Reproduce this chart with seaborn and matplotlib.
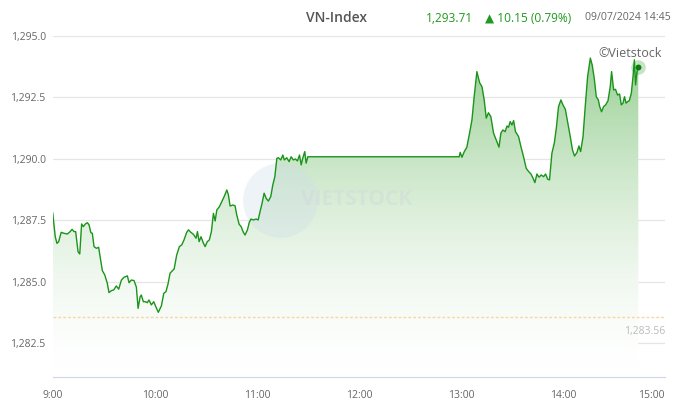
import numpy as np
import pandas as pd
import matplotlib
matplotlib.use("Agg")
import matplotlib.pyplot as plt
import seaborn as sns
from matplotlib.colors import LinearSegmentedColormap

# (minutes after 9:00, index level)
morning = [
    (0, 1287.81), (1.5, 1286.83), (2.5, 1286.56), (3.5, 1286.63), (5, 1287.01),
    (6.6, 1286.97), (8.6, 1286.94), (10, 1287.02), (11.4, 1287.13), (12.5, 1287.04),
    (13.5, 1287.04), (14.9, 1286.22), (15.9, 1286.13), (17, 1287.35), (18, 1287.24),
    (19.2, 1287.35), (20.4, 1287.40), (21.4, 1287.31), (22.4, 1287.00), (23.3, 1286.97),
    (24.3, 1286.43), (25.7, 1286.36), (27, 1286.40), (28.2, 1285.89), (29.2, 1285.45),
    (30.6, 1285.28), (32.1, 1284.94), (33.1, 1284.56), (34.5, 1284.64), (35.9, 1284.67),
    (37.4, 1284.83), (38.8, 1284.70), (40.4, 1285.07), (41.9, 1285.18), (43.9, 1285.24),
    (44.9, 1284.96), (46.2, 1285.07), (47.8, 1285.05), (49.2, 1284.78), (50.2, 1283.92),
    (51.4, 1284.39), (52.1, 1284.46), (53.3, 1284.19), (54.5, 1284.19), (55.6, 1284.15),
    (56.6, 1284.26), (58, 1284.06), (59.4, 1284.19), (60.6, 1283.99), (62.1, 1283.76),
    (63.9, 1284.02), (65.3, 1284.53), (66.6, 1284.60), (67.8, 1284.91), (69, 1285.35),
    (71.4, 1285.52), (72.9, 1286.09), (74.5, 1286.43), (75.9, 1286.50), (77.2, 1286.70),
    (78.8, 1287.01), (79.8, 1287.11), (81.2, 1287.01), (82.7, 1286.93), (84.3, 1286.77),
    (85.1, 1287.04), (86.1, 1286.63), (87.2, 1286.83), (88.6, 1286.57), (89.6, 1286.43),
    (90.9, 1286.63), (92.1, 1286.70), (93.3, 1287.04), (94.5, 1287.78), (95.5, 1287.47),
    (96.5, 1287.92), (98, 1288.05), (99.4, 1288.26), (100.8, 1288.46), (102.4, 1288.73),
    (103.3, 1288.53), (104.3, 1288.08), (105.9, 1288.12), (107.2, 1288.09), (108.2, 1287.72),
    (109.6, 1287.34), (110.8, 1287.24), (112.1, 1287.01), (113.1, 1286.90), (114.5, 1287.11),
    (115.6, 1287.42), (116.6, 1287.55), (118, 1287.51), (119.6, 1287.55), (120.8, 1287.51),
    (121.9, 1287.85), (123.1, 1288.19), (124.3, 1288.60), (125.5, 1288.39), (126.8, 1288.28),
    (128.2, 1288.46), (129.4, 1288.93), (130.6, 1289.27), (131.8, 1290.02), (132.7, 1290.04),
    (134.1, 1289.95), (135.3, 1290.15), (136.2, 1289.95), (137.6, 1290.04), (139, 1289.88),
    (140.2, 1290.08), (141.5, 1289.95), (142.7, 1289.99), (143.9, 1289.91), (145.1, 1290.15),
    (146.1, 1289.75), (147.1, 1290.04), (148.2, 1290.29), (149.0, 1289.82), (150, 1290.08),
]
lunch = [(239, 1290.08)]
afternoon = [
    (239.6, 1290.26), (240.6, 1290.06), (242, 1290.29), (243.5, 1290.47), (245.1, 1291.04),
    (246.5, 1291.58), (247.8, 1292.52), (249.4, 1293.54), (251, 1293.09), (252.4, 1292.93),
    (253.7, 1292.39), (254.9, 1291.65), (256.2, 1291.87), (257.6, 1291.71), (259.2, 1291.04),
    (260.8, 1290.76), (262.4, 1290.47), (263.5, 1291.04), (264.7, 1291.17), (266, 1291.10),
    (267.1, 1291.33), (268, 1291.28), (269, 1291.51), (270, 1291.37), (271, 1291.55),
    (272.1, 1291.10), (273.9, 1290.90), (275.3, 1290.49), (276.8, 1290.09), (278.4, 1289.61),
    (279.8, 1289.48), (281.2, 1289.38), (282.4, 1289.21), (283.5, 1289.03), (284.7, 1289.38),
    (285.9, 1289.25), (287.2, 1289.34), (288.6, 1289.27), (289.8, 1289.38), (291, 1289.17),
    (292.1, 1289.14), (293.5, 1290.22), (294.9, 1290.63), (296.1, 1291.24), (297.4, 1292.12),
    (298.8, 1292.39), (300, 1292.19), (301.4, 1292.01), (302.7, 1291.51), (304.3, 1290.90),
    (305.6, 1290.36), (306.8, 1290.11), (308.2, 1290.25), (309.4, 1290.52), (310.4, 1290.29),
    (311.8, 1290.90), (313.1, 1292.12), (314.5, 1293.34), (316.1, 1294.09), (317.2, 1293.81),
    (318.4, 1293.27), (319.6, 1292.52), (320.8, 1292.39), (321.6, 1292.12), (322.7, 1291.91),
    (323.9, 1292.12), (325.1, 1292.19), (326.5, 1292.36), (327.8, 1292.93), (328.6, 1293.54),
    (329.8, 1292.80), (330.9, 1292.82), (332.1, 1292.59), (333.3, 1292.63), (334.3, 1292.19),
    (335.3, 1292.26), (336.2, 1292.52), (337.1, 1292.26), (338, 1292.32), (339, 1292.36),
    (340.2, 1292.66), (341.2, 1293.34), (342, 1294.02), (342.7, 1293.00), (343.5, 1293.54),
    (344.3, 1293.71),
]

ref_close = 1283.56
y_ticks = [1282.5, 1285.0, 1287.5, 1290.0, 1292.5, 1295.0]
x_tick_labels = ["9:00", "10:00", "11:00", "12:00", "13:00", "14:00", "15:00"]

df = pd.DataFrame(morning + lunch + afternoon, columns=["minute", "value"])
df["hour"] = 9 + df["minute"] / 60.0

sns.set_theme(style="white")
plt.rcParams['font.family'] = ['Open Sans', 'DejaVu Sans']

fig = plt.figure(figsize=(6.86, 4.05), dpi=100)
ax = fig.add_axes([52.7 / 686, 1 - 377 / 405, 612.3 / 686, 341.3 / 405])
ymin, ymax = 1281.13, 1295.0
ax.set_xlim(9, 15)
ax.set_ylim(ymin, ymax)

# vertical green gradient under the line
green = "#1a941a"
cmap = LinearSegmentedColormap.from_list("g", ["#ffffff", "#8fcb8a"])
grad = np.linspace(0, 1, 256).reshape(-1, 1) ** 1.6
img = ax.imshow(grad, extent=[9, 15, ymin, ymax], origin="lower", aspect="auto",
                cmap=cmap, vmin=0, vmax=1, zorder=1, interpolation="bilinear")
poly = ax.fill_between(df["hour"], df["value"], ymin, color="none", lw=0)
img.set_clip_path(poly.get_paths()[0], transform=ax.transData)

for y in y_ticks:
    ax.axhline(y, color="#e6e6e6", lw=0.9, zorder=0)

ax.axhline(ref_close, color="#fdd3a0", lw=1.0, ls=(0, (2, 1.5)), zorder=2)
ax.text(1.0, ref_close - 0.35, f"{ref_close:,.2f}", transform=ax.get_yaxis_transform(),
        ha="right", va="top", fontsize=7.5, color="#bbbbbb")

# faint watermark
ax.scatter([0.371], [0.519], s=2900, color="#cfdde9", alpha=0.35, lw=0,
           transform=ax.transAxes, zorder=1.5)
ax.text(0.405, 0.52, "VIETSTOCK", transform=ax.transAxes, fontsize=15,
        fontweight="bold", color="#cfd6dd", alpha=0.4, va="center", zorder=1.6)

sns.lineplot(data=df, x="hour", y="value", color=green, lw=1.0, ax=ax, zorder=3)

last = df.iloc[-1]
ax.scatter([last["hour"]], [last["value"]], s=110, color=green, alpha=0.25, lw=0, zorder=4)
ax.scatter([last["hour"]], [last["value"]], s=18, color="#0b7d0b", lw=0, zorder=5)

ax.set_yticks(y_ticks)
ax.set_yticklabels([f"{v:,.1f}" for v in y_ticks])
ax.set_xticks(range(9, 16))
ax.set_xticklabels(x_tick_labels)
ax.set_xlabel("")
ax.set_ylabel("")
for s in ["top", "right", "left"]:
    ax.spines[s].set_visible(False)
ax.spines["bottom"].set_color("#ccd6eb")
ax.spines["bottom"].set_linewidth(0.8)
ax.tick_params(axis="x", colors="#ccd6eb", length=4, width=0.8, direction="out",
               labelcolor="#666666", labelsize=7.5, pad=5)
ax.tick_params(axis="y", length=0, labelcolor="#666666", labelsize=7.5, pad=5)
ax.get_xticklabels()[-1].set_ha("right")

ax.text(0.995, 0.948, "©Vietstock", transform=ax.transAxes, ha="right", va="center",
        fontsize=9, color="#666666", zorder=6)

fig.text(337 / 686, 1 - 18 / 405, "VN-Index", ha="center", va="center",
         fontsize=10, fontweight="semibold", color="#555555")
fig.text(449 / 686, 1 - 18 / 405, "1,293.71", ha="center", va="center",
         fontsize=8.6, color="#1f9a1f")
fig.text(528 / 686, 1 - 18 / 405, "▲ 10.15 (0.79%)", ha="center", va="center",
         fontsize=8.6, color="#1f9a1f")
fig.text(628 / 686, 1 - 18 / 405, "09/07/2024 14:45", ha="center", va="center",
         fontsize=7.6, color="#666666")

fig.savefig("out.png", dpi=100)
